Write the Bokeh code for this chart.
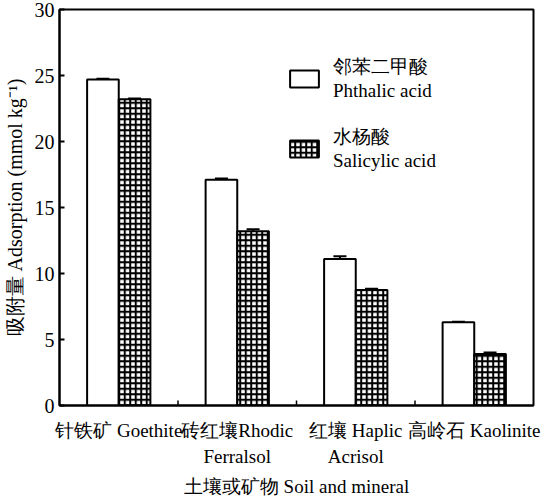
from bokeh.plotting import figure
from bokeh.models import (FactorRange, Range1d, ColumnDataSource, Whisker, TeeHead,
                          Legend, LegendItem, FixedTicker)
from bokeh.transform import dodge
from bokeh.embed import file_html
from bokeh.resources import INLINE

# ---- data ----
categories = ["针铁矿 Goethite", "砖红壤Rhodic\nFerralsol", "红壤 Haplic\nAcrisol", "高岭石 Kaolinite"]
phthalic = [24.7, 17.1, 11.1, 6.3]
phthalic_err = [0.05, 0.1, 0.2, 0.05]
salicylic = [23.2, 13.2, 8.75, 3.9]
salicylic_err = [0.05, 0.15, 0.1, 0.12]
series_names = ["邻苯二甲酸\nPhthalic acid", "水杨酸\nSalicylic acid"]
y_ticks = [0, 5, 10, 15, 20, 25, 30]
x_title = "土壤或矿物 Soil and mineral"
y_title = "吸附量 Adsorption (mmol kg⁻¹)"

FONT = "Liberation Serif"
OFF = 0.1335
BW = 0.267

src = ColumnDataSource(dict(
    cat=categories,
    ph=phthalic, ph_lo=[v - e for v, e in zip(phthalic, phthalic_err)],
    ph_hi=[v + e for v, e in zip(phthalic, phthalic_err)],
    sa=salicylic, sa_lo=[v - e for v, e in zip(salicylic, salicylic_err)],
    sa_hi=[v + e for v, e in zip(salicylic, salicylic_err)],
))

p = figure(x_range=FactorRange(*categories), y_range=Range1d(0, 30),
           width=543, height=499, output_backend="svg", toolbar_location=None,
           min_border_left=50, min_border_right=10, min_border_top=9, min_border_bottom=80)
p.x_range.range_padding = 0
p.xgrid.visible = False
p.ygrid.visible = False
p.outline_line_color = "black"
p.outline_line_width = 2
p.outline_line_alpha = 1

r1 = p.vbar(x=dodge("cat", -OFF, range=p.x_range), top="ph", width=BW, source=src,
            fill_color="white", line_color="black", line_width=2)
r2 = p.vbar(x=dodge("cat", OFF, range=p.x_range), top="sa", width=BW, source=src,
            fill_color="white", line_color="black", line_width=2,
            hatch_pattern="+", hatch_color="black", hatch_scale=5.5, hatch_weight=2)

for base, lo, hi in [(dodge("cat", -OFF, range=p.x_range), "ph_lo", "ph_hi"),
                     (dodge("cat", OFF, range=p.x_range), "sa_lo", "sa_hi")]:
    w = Whisker(base=base, lower=lo, upper=hi, source=src, dimension="height",
                line_color="black", line_width=2,
                upper_head=TeeHead(size=13, line_width=2, line_color="black"),
                lower_head=TeeHead(size=13, line_width=2, line_color="black"))
    p.add_layout(w)

# inward ticks at category boundaries
boundaries = [i for i in range(1, len(categories))]
p.rect(x=boundaries, y=[0] * len(boundaries), width=1.5, height=10,
       width_units="screen", height_units="screen", fill_color="black", line_color=None)

# axes
p.yaxis.ticker = FixedTicker(ticks=y_ticks)
p.yaxis.minor_tick_line_color = None
p.yaxis.major_tick_in = 5
p.yaxis.major_tick_out = 0
p.yaxis.major_tick_line_width = 2
p.yaxis.axis_line_width = 2
p.yaxis.major_label_standoff = 5
p.yaxis.axis_label = y_title
p.yaxis.axis_label_standoff = 6

p.xaxis.major_tick_in = 0
p.xaxis.major_tick_out = 0
p.xaxis.axis_line_width = 2
p.xaxis.major_label_standoff = 14
p.xaxis.axis_label = x_title
p.xaxis.axis_label_standoff = 6

for ax in (p.xaxis, p.yaxis):
    ax.major_label_text_font = FONT
    ax.major_label_text_font_size = "19px"
    ax.major_label_text_color = "black"
    ax.axis_label_text_font = FONT
    ax.axis_label_text_font_size = "19px"
    ax.axis_label_text_font_style = "normal"
    ax.axis_label_text_color = "black"
    ax.axis_line_color = "black"
    ax.major_tick_line_color = "black"
p.yaxis.major_label_text_font_size = "20px"
p.yaxis.axis_label_text_font_size = "20px"
p.xaxis.major_label_text_line_height = 1.25

legend = Legend(items=[LegendItem(label=series_names[0], renderers=[r1]),
                       LegendItem(label=series_names[1], renderers=[r2])],
                location=(227, 233), orientation="vertical",
                glyph_width=36, glyph_height=21, label_standoff=11, spacing=22,
                padding=0, margin=0, border_line_color=None, background_fill_alpha=0,
                label_text_font=FONT, label_text_font_size="19px", label_text_color="black",
                label_text_line_height=1.15)
p.add_layout(legend)

open("out.html", "w").write(file_html(p, INLINE))
